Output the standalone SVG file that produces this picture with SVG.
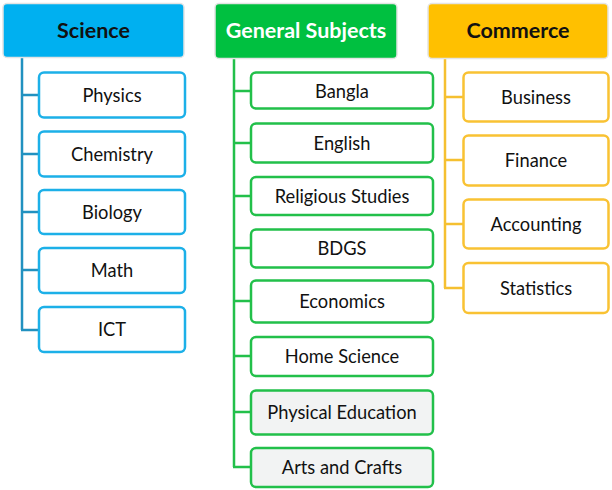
<svg xmlns="http://www.w3.org/2000/svg" width="612" height="490" viewBox="0 0 612 490">
<style>
text{font-family:Lato,"Open Sans",sans-serif;text-anchor:middle;dominant-baseline:central}
.h{font-size:21.5px;font-weight:bold}
.t{font-size:18.3px;fill:#111}
.hd{stroke:#e4e4e4;stroke-width:1.5}
.b{fill:#fff;stroke-width:2.5}
.sc{stroke:#1cb0e8}
.gn{stroke:#22c04a}
.cm{stroke:#f9c233}
.g{fill:#f2f3f3}
.ln{fill:none;stroke-width:2.5}
</style>
<rect width="612" height="490" fill="#fff"/>
<g id="connectors">
<path class="ln" stroke="#2191c0" d="M22 57V330M21 95H38M21 154H38M21 212H38M21 270H38M21 330H38"/>
<path class="ln" stroke="#22c04a" d="M234 58V467M233 91H250M233 143H250M233 196H250M233 248H250M233 301H250M233 356H250M233 412H250M233 467H250"/>
<path class="ln" stroke="#f5c030" d="M445 58V288M444 97H463M444 160H463M444 224H463M444 288H463"/>
</g>
<g id="science">
<rect class="hd" x="3" y="3.5" width="181" height="54" rx="4" fill="#00b0f0"/>
<text class="h" x="93.5" y="29.5" fill="#111">Science</text>
</g>
<g id="physics"><rect class="b sc" x="39" y="72.5" width="146" height="45" rx="5"/><text class="t" x="112" y="95">Physics</text></g>
<g id="chemistry"><rect class="b sc" x="39" y="131.5" width="146" height="45" rx="5"/><text class="t" x="112" y="154">Chemistry</text></g>
<g id="biology"><rect class="b sc" x="39" y="190" width="146" height="44" rx="5"/><text class="t" x="112" y="212">Biology</text></g>
<g id="math"><rect class="b sc" x="39" y="248" width="146" height="45" rx="5"/><text class="t" x="112" y="270">Math</text></g>
<g id="ict"><rect class="b sc" x="39" y="307" width="146" height="45" rx="5"/><text class="t" x="112" y="329">ICT</text></g>
<g id="general">
<rect class="hd" x="215" y="3.5" width="182" height="55" rx="4" fill="#00c040"/>
<text class="h" x="306" y="29.5" fill="#fff">General Subjects</text>
</g>
<g id="bangla"><rect class="b gn" x="251" y="72.5" width="182" height="36" rx="5"/><text class="t" x="342" y="91">Bangla</text></g>
<g id="english"><rect class="b gn" x="251" y="123.5" width="182" height="39" rx="5"/><text class="t" x="342" y="143">English</text></g>
<g id="religious"><rect class="b gn" x="251" y="177" width="182" height="38" rx="5"/><text class="t" x="342" y="196">Religious Studies</text></g>
<g id="bdgs"><rect class="b gn" x="251" y="229.5" width="182" height="38" rx="5"/><text class="t" x="342" y="248">BDGS</text></g>
<g id="economics"><rect class="b gn" x="251" y="280.5" width="182" height="42" rx="5"/><text class="t" x="342" y="301">Economics</text></g>
<g id="homescience"><rect class="b gn" x="251" y="337" width="182" height="39" rx="5"/><text class="t" x="342" y="356">Home Science</text></g>
<g id="physicaleducation"><rect class="b gn g" x="251" y="390.5" width="182" height="44" rx="5"/><text class="t" x="342" y="412">Physical Education</text></g>
<g id="artscrafts"><rect class="b gn g" x="251" y="448" width="182" height="39" rx="5"/><text class="t" x="342" y="467">Arts and Crafts</text></g>
<g id="commerce">
<rect class="hd" x="428" y="3.5" width="180" height="55" rx="4" fill="#ffc000"/>
<text class="h" x="518" y="29.5" fill="#111">Commerce</text>
</g>
<g id="business"><rect class="b cm" x="463.5" y="72.5" width="145" height="49" rx="5"/><text class="t" x="536" y="97">Business</text></g>
<g id="finance"><rect class="b cm" x="463.5" y="135.5" width="145" height="50" rx="5"/><text class="t" x="536" y="160">Finance</text></g>
<g id="accounting"><rect class="b cm" x="463.5" y="199.5" width="145" height="49" rx="5"/><text class="t" x="536" y="224">Accounting</text></g>
<g id="statistics"><rect class="b cm" x="463.5" y="263" width="145" height="50" rx="5"/><text class="t" x="536" y="288">Statistics</text></g>
</svg>
